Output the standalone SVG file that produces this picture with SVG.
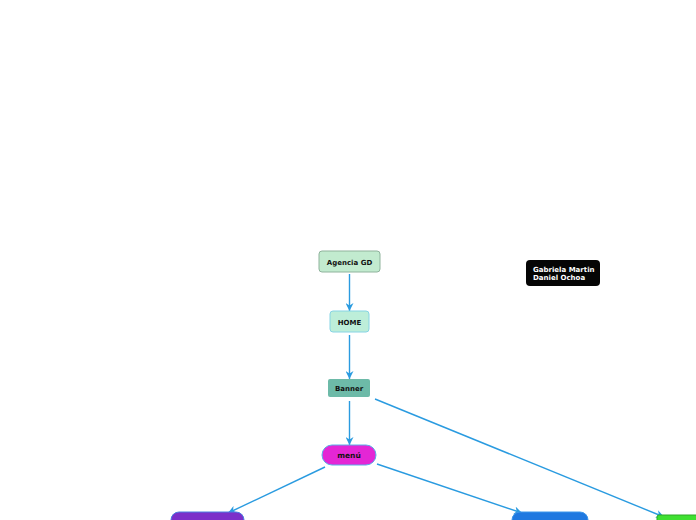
<svg xmlns="http://www.w3.org/2000/svg" width="696" height="520" viewBox="0 0 696 520">
<style>
  .t{font-family:"DejaVu Sans","Liberation Sans",sans-serif;font-weight:bold;text-anchor:middle;fill:#111}
  .c{fill:none;stroke:#2a9be0;stroke-width:1.4}
</style>
<defs>
  <marker id="a" viewBox="0 0 10 10" refX="10" refY="5" markerWidth="9" markerHeight="8" markerUnits="userSpaceOnUse" orient="auto">
    <path d="M0,0 L10,5 L0,10 L3,5 Z" fill="#2a9be0"/>
  </marker>
</defs>
<rect width="696" height="520" fill="#fff"/>
<g id="connectors">
  <line class="c" x1="349.5" y1="274" x2="349.5" y2="311" marker-end="url(#a)"/>
  <line class="c" x1="349.5" y1="335" x2="349.5" y2="379" marker-end="url(#a)"/>
  <line class="c" x1="349.5" y1="401" x2="349.5" y2="445" marker-end="url(#a)"/>
  <line class="c" x1="325" y1="467" x2="228" y2="513" marker-end="url(#a)"/>
  <line class="c" x1="377" y1="464" x2="522" y2="513" marker-end="url(#a)"/>
  <line class="c" x1="375" y1="399" x2="664" y2="517" marker-end="url(#a)"/>
</g>
<g id="agencia">
  <rect x="319" y="251" width="61" height="21" rx="3" fill="#c2ebcf" stroke="#8fb39c"/>
  <text class="t" x="349.5" y="264.5" font-size="7">Agencia GD</text>
</g>
<g id="home">
  <rect x="330" y="311" width="39" height="21" rx="3" fill="#bdeed9" stroke="#86d4e4"/>
  <text class="t" x="349.5" y="324.5" font-size="7">HOME</text>
</g>
<g id="banner">
  <rect x="328" y="379" width="42" height="18" rx="2" fill="#6dbaa8"/>
  <text class="t" x="349" y="391" font-size="7">Banner</text>
</g>
<g id="menu">
  <rect x="322" y="445" width="54" height="20" rx="10" fill="#e426d5" stroke="#5aaee8"/>
  <text class="t" x="349" y="458" font-size="7.5">menú</text>
</g>
<g id="autores">
  <rect x="526" y="260" width="74" height="26" rx="4" fill="#050505"/>
  <text x="533" y="272" font-family="DejaVu Sans,Liberation Sans,sans-serif" font-weight="bold" font-size="7" fill="#fff">Gabriela Martin</text>
  <text x="533" y="280" font-family="DejaVu Sans,Liberation Sans,sans-serif" font-weight="bold" font-size="7" fill="#fff">Daniel Ochoa</text>
</g>
<g id="nodo-morado">
  <rect x="171" y="512" width="73" height="24" rx="8" fill="#7b2fc9" stroke="#4a7fe0"/>
</g>
<g id="nodo-azul">
  <rect x="512" y="512" width="76" height="24" rx="8" fill="#1f78e0" stroke="#3c96ea"/>
</g>
<g id="nodo-verde">
  <rect x="657" y="515" width="45" height="20" rx="2" fill="#3fe031" stroke="#2fa826"/>
</g>
</svg>
